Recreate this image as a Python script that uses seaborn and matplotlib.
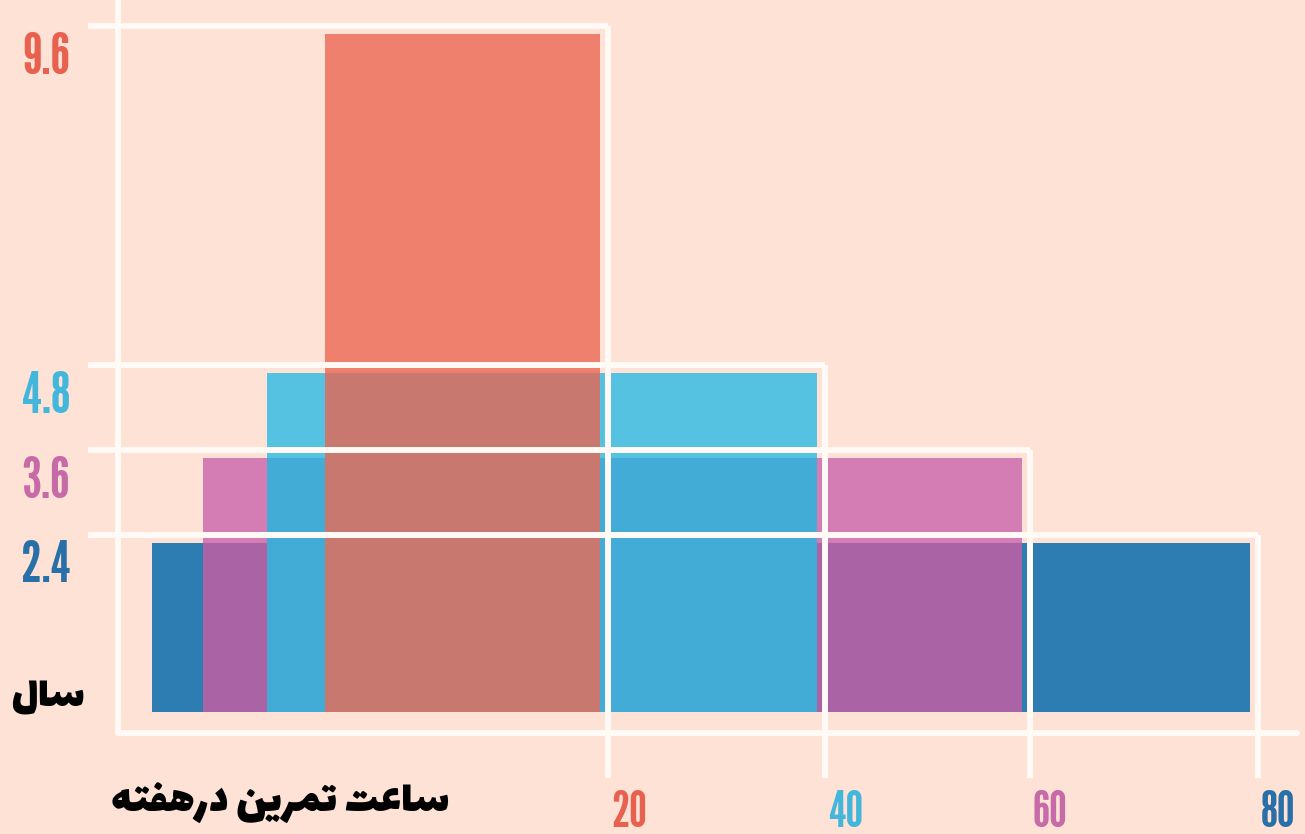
import matplotlib
matplotlib.use("Agg")
import matplotlib.pyplot as plt
import seaborn as sns

# ---------------- data ----------------
years = [2.4, 3.6, 4.8, 9.6]                 # bar heights (years)
year_labels = ["2.4", "3.6", "4.8", "9.6"]
hour_labels = ["80", "60", "40", "20"]       # hours of training per week
bar_start = [152, 203, 267, 325]             # horizontal extent of each bar (layout units)
bar_end = [1250, 1022, 817, 600]
bar_colors = ["#2d7db2", "#d47db4", "#54c2e0", "#f0806e"]
overlap_colors = ["#2d7db2", "#aa64a5", "#42acd7", "#c8786e"]
label_colors = ["#2a70a8", "#c66aa8", "#43b6dc", "#e8604e"]
# Persian titles, written with Arabic presentation forms (visual order) so they render joined
y_title = "\u0644\uFE8E\uFEB3"                                     # سال
x_title = ("\uFEEA\uFE98\uFED4\uFEEB\u0631\u062F "
           "\uFEE6\uFEF3\uFEAE\uFEE4\uFE97 \uFE96\uFECB\uFE8E\uFEB3")  # ساعت تمرین درهفته

# ---------------- style ----------------
BG = "#fde2d5"
LINE = "#fffaf6"
sns.set_theme(style="white", rc={"figure.facecolor": BG, "axes.facecolor": BG})
num_font = ["League Gothic", "Oswald", "DejaVu Sans"]
fa_font = ["Lalezar", "Vazirmatn", "Noto Sans Arabic", "DejaVu Sans"]

fig = plt.figure(figsize=(13.05, 8.34), dpi=100)
ax = fig.add_axes([0, 0, 1, 1])
PX = 70.6                      # pixels per year
ax.set_xlim(0, 1305)
ax.set_ylim(-(834 - 712) / PX, 712 / PX)
ax.axis("off")

# bars: full bar in its own colour, then the part overlapping the lower bar in a darker shade
for i, y in enumerate(years):
    w = bar_end[i] - bar_start[i]
    ax.bar(bar_start[i], y, width=w, bottom=0, align="edge",
           color=bar_colors[i], linewidth=0, zorder=2)
    if i > 0:
        ax.bar(bar_start[i], years[i - 1], width=w, bottom=0, align="edge",
               color=overlap_colors[i], linewidth=0, zorder=3)

# white offset frames
dx, dy = 8, 8 / PX
base_y = -21 / PX
tick_bottom = -66 / PX
lw = 4.3
for i, y in enumerate(years):
    xr = bar_end[i] + dx
    ax.plot([88, xr], [y + dy, y + dy], color=LINE, lw=lw, solid_capstyle="butt", zorder=5)
    ax.plot([xr, xr], [y + dy, tick_bottom], color=LINE, lw=lw, solid_capstyle="butt", zorder=5)
    ax.text(xr + 3, -78 / PX, hour_labels[i], color=label_colors[i], ha="left", va="top",
            fontsize=36, family=num_font, zorder=6)
    ax.text(46, y + 0.03, year_labels[i], color=label_colors[i], ha="center", va="top",
            fontsize=41, family=num_font, zorder=6)

ax.plot([118, 118], [base_y, 712 / PX], color=LINE, lw=lw, solid_capstyle="round", zorder=5)
ax.plot([118, 1297], [base_y, base_y], color=LINE, lw=lw, solid_capstyle="round", zorder=5)

ax.text(47, 14 / PX, y_title, color="black", ha="center", va="center",
        fontsize=33, family=fa_font, zorder=6)
ax.text(280, -92 / PX, x_title, color="black", ha="center", va="center",
        fontsize=34, family=fa_font, zorder=6)

fig.savefig("out.png", dpi=100, facecolor=BG)
